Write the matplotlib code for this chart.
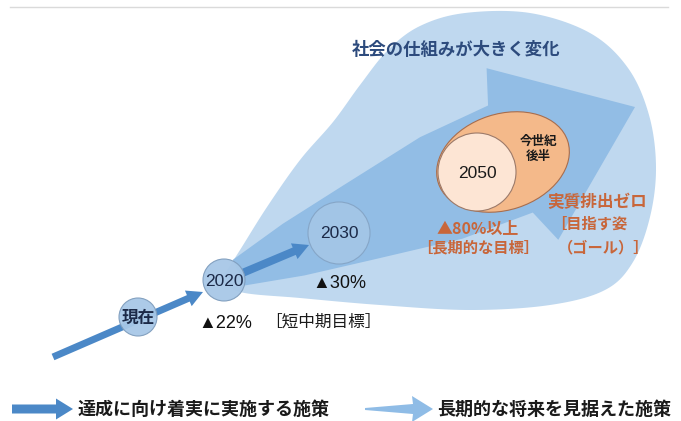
import numpy as np
import matplotlib
matplotlib.use("Agg")
import matplotlib.pyplot as plt
from matplotlib import font_manager as fm
from matplotlib.patches import Polygon, Circle, Ellipse, FancyArrow

# ---------------- content ----------------
title = "社会の仕組みが大きく変化"
node_labels = ["現在", "2020", "2030"]
reduction_labels = ["▲22%", "▲30%"]
short_term_label = "［短中期目標］"
goal_year = "2050"
goal_period = "今世紀\n後半"
long_term_labels = ["▲80%以上", "［長期的な目標］"]
vision_labels = ["実質排出ゼロ", "［目指す姿", "（ゴール）］"]
legend_labels = ["達成に向け着実に実施する施策", "長期的な将来を見据えた施策"]

# ---------------- style ----------------
names = {f.name for f in fm.fontManager.ttflist}
NARROW = "Liberation Sans Narrow" in names
NUM = "Liberation Sans Narrow" if NARROW else "Liberation Sans"
YEAR_FS = 14 if NARROW else 12.5
CJK = "Noto Sans CJK JP"
plt.rcParams["font.family"] = [CJK, "DejaVu Sans"]

C_CONE = "#bfd8ef"
C_MID = "#92bde5"
C_DARK = "#4b88c7"
C_NODE = "#a8c8e7"
C_NODE_E = "#7f9dbd"
C_NAVY = "#1c2a48"
C_ORANGE = "#c8663a"

fig = plt.figure(figsize=(6.81, 4.21), dpi=100)
ax = fig.add_axes([0, 0, 1, 1])
ax.set_xlim(0, 681)
ax.set_ylim(421, 0)
ax.axis("off")


def catmull(pts, n=16):
    pts = np.asarray(pts, float)
    out = []
    m = len(pts)
    for i in range(m - 1):
        p0 = pts[max(i - 1, 0)]
        p1 = pts[i]
        p2 = pts[i + 1]
        p3 = pts[min(i + 2, m - 1)]
        t = np.linspace(0, 1, n, endpoint=False)[:, None]
        seg = 0.5 * ((2 * p1) + (-p0 + p2) * t + (2 * p0 - 5 * p1 + 4 * p2 - p3) * t ** 2
                     + (-p0 + 3 * p1 - 3 * p2 + p3) * t ** 3)
        out.append(seg)
    out.append(pts[-1:])
    return np.vstack(out)


# top rule
ax.plot([10, 668], [7, 7], color="#dadada", lw=1.0)

# outer balloon / cone
cone = [(222, 278), (240, 250), (267, 207), (300, 160), (333, 122), (360, 85), (388, 50),
        (420, 26), (465, 13), (530, 13), (590, 33), (628, 68), (649, 115), (656, 167),
        (650, 217), (633, 262), (605, 290), (550, 305), (470, 310), (380, 305),
        (300, 298), (240, 292), (222, 278)]
ax.add_patch(Polygon(catmull(cone), closed=True, fc=C_CONE, ec="none", zorder=1))

# big long-term arrow (tapered shaft + head)
tip = np.array([635.0, 107.0])
u = np.array([395.0, -165.0]); u /= np.linalg.norm(u)
nrm = np.array([-u[1], u[0]])
upper = [(-430, 14), (-370, 28), (-300, 40), (-210, 55), (-135, 58)]
shape = [(s, -w) for s, w in upper] + [(-122, -93), (0, 0), (-122, 93)] + \
        [(s, w) for s, w in upper[::-1]]
poly = [tip + s * u + w * nrm for s, w in shape]
ax.add_patch(Polygon(poly, closed=True, fc=C_MID, ec="none", zorder=2))

# small dark arrows
ax.add_patch(FancyArrow(53, 357, 150, -65, width=7, head_width=17, head_length=16,
                        length_includes_head=True, fc=C_DARK, ec="none", zorder=3))
ax.add_patch(FancyArrow(240, 274, 69, -29, width=8, head_width=17, head_length=16,
                        length_includes_head=True, fc=C_DARK, ec="none", zorder=3))

# nodes
node_xy = [(138, 317), (224, 280), (339, 233)]
node_r = [19, 21, 31]
node_fs = [12, YEAR_FS, YEAR_FS]
for (x, y), r, lab, fs in zip(node_xy, node_r, node_labels, node_fs):
    ax.add_patch(Circle((x, y), r, fc=C_NODE, ec=C_NODE_E, lw=0.8, zorder=4,
                        alpha=0.95 if r < 30 else 0.75))
    fam = [CJK] if lab == "現在" else [NUM, "DejaVu Sans"]
    ax.text(x, y + 1, lab, ha="center", va="center", fontsize=fs, color=C_NAVY,
            family=fam, weight="bold" if lab == "現在" else "normal", zorder=5)

# reductions
for (x, y), lab in zip([(225, 323), (339, 283)], reduction_labels):
    ax.text(x, y, lab, ha="center", va="center", fontsize=13, color="#111111",
            family=[NUM, "DejaVu Sans"], zorder=5)
ax.text(323, 322, short_term_label, ha="center", va="center", fontsize=12,
        color="#1a1a1a", zorder=5)

# 2050 goal
ax.add_patch(Ellipse((503, 162), 136, 96, angle=-18, fc="#f4b98a", ec="#a86d4d",
                     lw=0.8, zorder=4))
ax.add_patch(Circle((477, 172), 39, fc="#fde5d4", ec="#9c7a6a", lw=0.8, zorder=5))
ax.text(477, 173, goal_year, ha="center", va="center", fontsize=YEAR_FS, color="#1a1a1a",
        family=[NUM, "DejaVu Sans"], zorder=6)
ax.text(538, 149, goal_period, ha="center", va="center", fontsize=9, weight="bold",
        color="#1a1a1a", linespacing=1.25, zorder=6)

ax.text(478, 229, long_term_labels[0], ha="center", va="center", fontsize=11.5,
        color=C_ORANGE, weight="bold", zorder=6)
ax.text(478, 247, long_term_labels[1], ha="center", va="center", fontsize=11,
        color=C_ORANGE, weight="bold", zorder=6)

ax.text(597, 202, vision_labels[0], ha="center", va="center", fontsize=12,
        color=C_ORANGE, weight="bold", zorder=6)
ax.text(589, 224, vision_labels[1], ha="center", va="center", fontsize=11,
        color=C_ORANGE, weight="bold", zorder=6)
ax.text(604, 247, vision_labels[2], ha="center", va="center", fontsize=11,
        color=C_ORANGE, weight="bold", zorder=6)

# title
ax.text(456, 50, title, ha="center", va="center", fontsize=12.5, weight="bold",
        color="#2d4b7d", zorder=6)

# legend
ax.add_patch(FancyArrow(12, 409, 61, 0, width=9, head_width=21, head_length=17,
                        length_includes_head=True, fc=C_DARK, ec="none", zorder=3))
ax.text(78, 409, legend_labels[0], ha="left", va="center", fontsize=13, weight="bold",
        color="#1a1a1a")
light = [(365, 408), (413, 404), (412, 396), (433, 409), (412, 422), (413, 414), (365, 410)]
ax.add_patch(Polygon(light, closed=True, fc="#8fbce6", ec="none", zorder=3))
ax.text(437, 409, legend_labels[1], ha="left", va="center", fontsize=13, weight="bold",
        color="#1a1a1a")

fig.savefig("out.png", dpi=100)
